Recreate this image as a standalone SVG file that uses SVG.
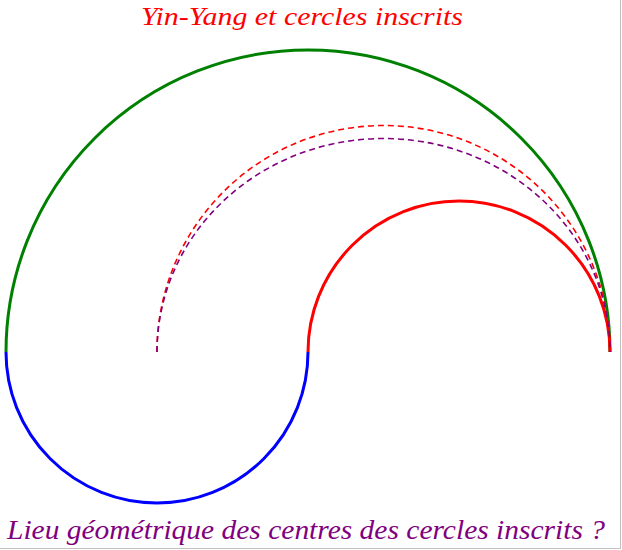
<svg xmlns="http://www.w3.org/2000/svg" width="622" height="550" viewBox="0 0 622 550">
<style>
.solid{fill:none;stroke-width:3}
.dash{fill:none;stroke-width:1.6;stroke-dasharray:6,4}
.t{font-family:"Liberation Serif","Times New Roman",serif;font-style:italic}
</style>
<rect x="0" y="0" width="622" height="550" fill="#ffffff"/>
<g id="frame">
<line x1="620.5" y1="0" x2="620.5" y2="549" stroke="#c0c0c0" stroke-width="1"/>
<line x1="0" y1="548.5" x2="621" y2="548.5" stroke="#c0c0c0" stroke-width="1"/>
</g>
<g id="title">
<text class="t" x="141" y="25" font-size="26" fill="#ff0000" textLength="322" lengthAdjust="spacingAndGlyphs">Yin-Yang et cercles inscrits</text>
</g>
<g id="connectors">
<path id="green-arc" class="solid" stroke="#008000" d="M6,352 A302,302 0 0 1 610,352"/>
<path id="blue-arc" class="solid" stroke="#0000ff" d="M6,352 A151,151 0 0 0 308,352"/>
<path id="red-arc" class="solid" stroke="#ff0000" d="M308,352 A151,151 0 0 1 610,352"/>
<path id="red-dashed" class="dash" stroke="#ff0000" d="M157,352 A226.5,226.5 0 0 1 610,352"/>
<path id="purple-dashed" class="dash" stroke="#800080" d="M157,352 A226.5,213.5 0 0 1 610,352"/>
</g>
<g id="caption">
<text class="t" x="7" y="539" font-size="28" fill="#800080" textLength="598" lengthAdjust="spacingAndGlyphs">Lieu géométrique des centres des cercles inscrits ?</text>
</g>
</svg>
